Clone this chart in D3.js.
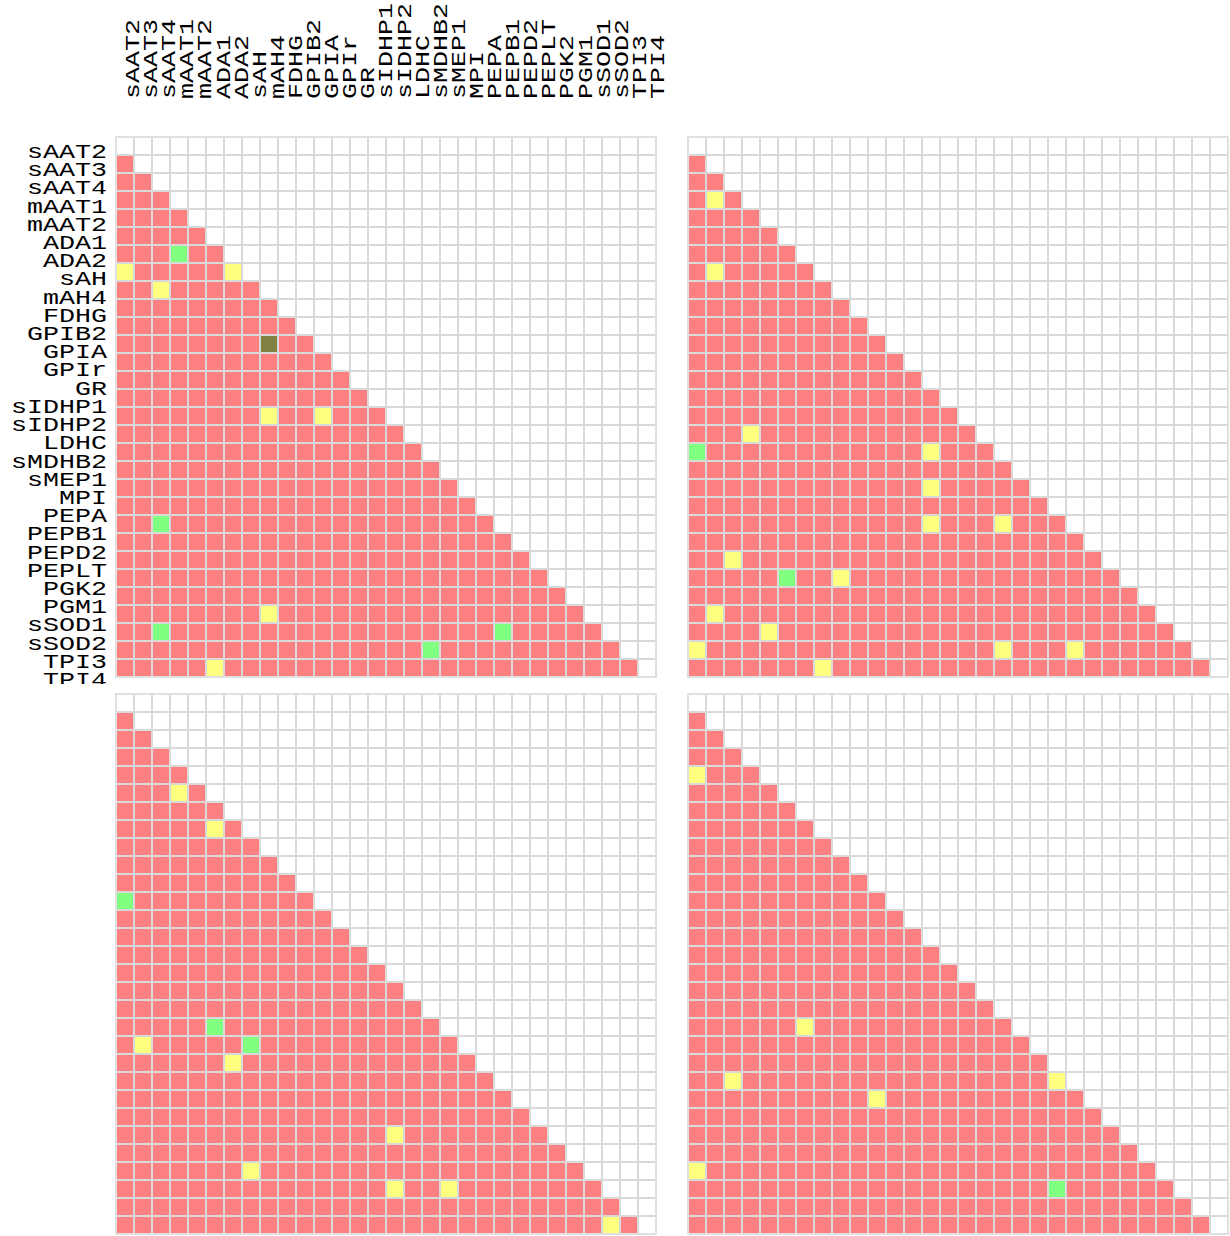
<!DOCTYPE html>
<html>
<head>
<meta charset="utf-8">
<script src="https://cdn.jsdelivr.net/npm/d3@7"></script>
<style>
  body { margin: 0; background: #fff; }
  text { font-family: "Courier New", Courier, "Liberation Mono", monospace; fill: #000; }
</style>
</head>
<body>
<div id="chart"></div>
<script>
const genes = ["sAAT2","sAAT3","sAAT4","mAAT1","mAAT2","ADA1","ADA2","sAH","mAH4","FDHG",
  "GPIB2","GPIA","GPIr","GR","sIDHP1","sIDHP2","LDHC","sMDHB2","sMEP1","MPI",
  "PEPA","PEPB1","PEPD2","PEPLT","PGK2","PGM1","sSOD1","sSOD2","TPI3","TPI4"];

// [row, col] of the cells that are not plain red (lower triangle is red by default)
const p1Yellow = [[7,0],[7,6],[8,2],[15,8],[15,11],[26,8],[29,5]];
const p1Green  = [[6,3],[21,2],[27,2],[27,21],[28,17]];
const p1Olive  = [[11,8]];
const p2Yellow = [[3,1],[7,1],[16,3],[17,13],[19,13],[21,13],[21,17],[23,2],[24,8],
  [26,1],[27,4],[28,0],[28,17],[28,21],[29,7]];
const p2Green  = [[17,0],[24,5]];
const p3Yellow = [[5,3],[7,5],[19,1],[20,6],[24,15],[26,7],[27,15],[27,18],[29,27]];
const p3Green  = [[11,0],[18,5],[19,7]];
const p4Yellow = [[4,0],[18,6],[21,2],[21,20],[22,10],[26,0]];
const p4Green  = [[27,20]];

const colors = {empty: "#ffffff", red: "#ff8080", yellow: "#ffff80", green: "#80ff80", olive: "#808040"};

const W = 1230, H = 1236;
const cell = 18;
const n = genes.length;

const panels = [
  {x: 116, y: 137, marks: {yellow: p1Yellow, green: p1Green, olive: p1Olive}},
  {x: 688, y: 137, marks: {yellow: p2Yellow, green: p2Green}},
  {x: 116, y: 694, marks: {yellow: p3Yellow, green: p3Green}},
  {x: 688, y: 694, marks: {yellow: p4Yellow, green: p4Green}}
];

const band = d3.scaleBand().domain(d3.range(n)).range([0, n * cell]);

// label positions (slightly different pitch than the cells in the original)
const rowLab = d3.scaleLinear().domain([0, n - 1]).range([158, 686]);
const colLab = d3.scaleLinear().domain([0, n - 1]).range([139, 664]);

const svg = d3.select('#chart')
  .append('svg')
    .attr('width', W)
    .attr('height', H);

svg.append('defs').append('clipPath').attr('id', 'rowclip')
  .append('rect').attr('x', 0).attr('y', 0).attr('width', 116).attr('height', 684);

function buildCells(marks) {
  const lookup = new Map();
  for (const k in marks) marks[k].forEach(([r, c]) => lookup.set(r + '_' + c, k));
  const out = [];
  for (let r = 0; r < n; r++) {
    for (let c = 0; c < n; c++) {
      let cat = c < r ? 'red' : 'empty';
      if (lookup.has(r + '_' + c)) cat = lookup.get(r + '_' + c);
      out.push({r, c, cat});
    }
  }
  return out;
}

panels.forEach(p => {
  const g = svg.append('g').attr('transform', `translate(${p.x},${p.y})`);
  g.selectAll('rect.cell')
    .data(buildCells(p.marks))
    .join('rect')
      .attr('class', 'cell')
      .attr('x', d => band(d.c))
      .attr('y', d => band(d.r))
      .attr('width', band.bandwidth())
      .attr('height', band.bandwidth())
      .attr('fill', d => colors[d.cat])
      .attr('stroke', '#d9d9d9')
      .attr('stroke-width', 2);
  g.append('rect')
    .attr('x', 0).attr('y', 0)
    .attr('width', n * cell).attr('height', n * cell)
    .attr('fill', 'none')
    .attr('stroke', '#e0e0e0')
    .attr('stroke-width', 2);
});

// row labels
svg.append('g')
  .attr('clip-path', 'url(#rowclip)')
  .selectAll('text')
  .data(genes)
  .join('text')
    .attr('transform', (d, i) => `translate(107,${rowLab(i)}) scale(1.27,1)`)
    .attr('text-anchor', 'end')
    .attr('font-size', 21)
    .text(d => d);

// column labels
svg.append('g')
  .selectAll('text')
  .data(genes)
  .join('text')
    .attr('transform', (d, i) => `translate(${colLab(i)},99) rotate(-90) scale(1.27,1)`)
    .attr('text-anchor', 'start')
    .attr('font-size', 21)
    .text(d => d);
</script>
</body>
</html>
